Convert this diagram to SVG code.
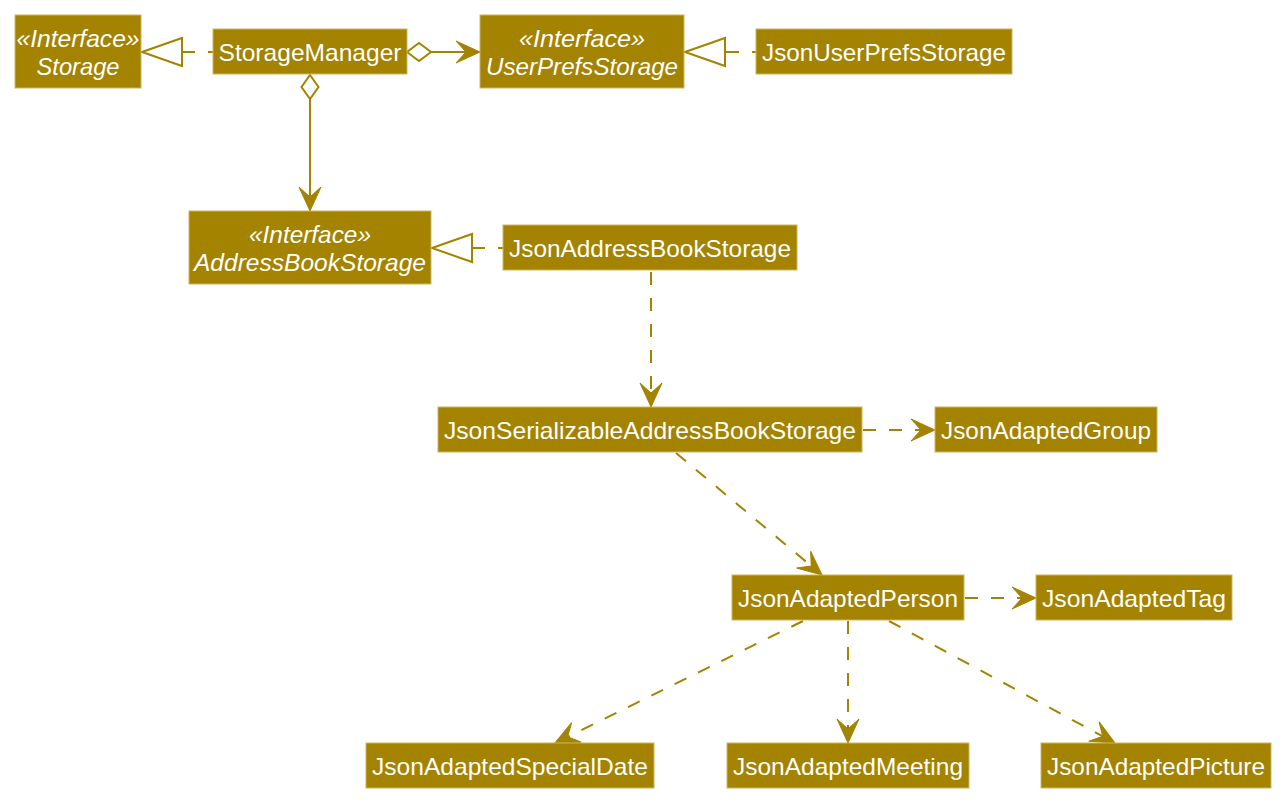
<svg xmlns="http://www.w3.org/2000/svg" width="1284" height="799" viewBox="0 0 1284 799">
<style>
.box{fill:#A38300;stroke:#CDB55F;stroke-width:1}
.t{font-family:"Liberation Sans",Arial,sans-serif;font-size:24px;fill:#FFFFFF;text-anchor:middle}
.i{font-style:italic}
.ln{fill:none;stroke:#A38300;stroke-width:2}
.dash{stroke-dasharray:13 13}
.tri{fill:#FFFFFF;stroke:#A38300;stroke-width:2}
.dia{fill:#FFFFFF;stroke:#A38300;stroke-width:2}
</style>
<defs>
<marker id="arrow" markerUnits="userSpaceOnUse" orient="auto" refX="0" refY="0" markerWidth="30" markerHeight="30" overflow="visible">
<path d="M0,0 L-24,-11 L-14,0 L-24,11 Z" fill="#A38300" stroke="#A38300" stroke-width="1"/>
</marker>
</defs>
<rect width="1284" height="799" fill="#FFFFFF"/>
<g id="connectors">
<path class="ln dash" d="M182,52 L213,52"/>
<polygon class="tri" points="142,52 182,38 182,66"/>
<path class="ln" d="M431,52 L480,52" marker-end="url(#arrow)"/>
<polygon class="dia" points="407,52 419,43 431,52 419,61"/>
<path class="ln dash" d="M726,52 L756,52"/>
<polygon class="tri" points="685,52 725,38 725,66"/>
<path class="ln" d="M310,99 L310,211" marker-end="url(#arrow)"/>
<polygon class="dia" points="310,75 318.5,87 310,99 301.5,87"/>
<path class="ln dash" d="M472,248 L503,248"/>
<polygon class="tri" points="432,248 472,234 472,262"/>
<path class="ln dash" d="M651,272 L651,407" marker-end="url(#arrow)"/>
<path class="ln dash" d="M863,430 L935,430" marker-end="url(#arrow)"/>
<path class="ln dash" d="M676,453 L822,575" marker-end="url(#arrow)"/>
<path class="ln dash" d="M965,598 L1036,598" marker-end="url(#arrow)"/>
<path class="ln dash" d="M803,621 L555,743" marker-end="url(#arrow)"/>
<path class="ln dash" d="M848,621 L848,743" marker-end="url(#arrow)"/>
<path class="ln dash" d="M889,621 L1115,743" marker-end="url(#arrow)"/>
</g>
<g id="Storage">
<rect class="box" x="15" y="15" width="126" height="73"/>
<text class="t i" x="78" y="47" textLength="123" lengthAdjust="spacingAndGlyphs">«Interface»</text>
<text class="t i" x="78" y="75" textLength="83" lengthAdjust="spacingAndGlyphs">Storage</text>
</g>
<g id="StorageManager">
<rect class="box" x="213" y="29" width="194" height="45"/>
<text class="t" x="310" y="61" textLength="183" lengthAdjust="spacingAndGlyphs">StorageManager</text>
</g>
<g id="UserPrefsStorage">
<rect class="box" x="480" y="15" width="204" height="73"/>
<text class="t i" x="582" y="47" textLength="126" lengthAdjust="spacingAndGlyphs">«Interface»</text>
<text class="t i" x="582" y="75" textLength="192" lengthAdjust="spacingAndGlyphs">UserPrefsStorage</text>
</g>
<g id="JsonUserPrefsStorage">
<rect class="box" x="756" y="29" width="256" height="45"/>
<text class="t" x="884" y="61" textLength="244" lengthAdjust="spacingAndGlyphs">JsonUserPrefsStorage</text>
</g>
<g id="AddressBookStorage">
<rect class="box" x="189" y="211" width="242" height="73"/>
<text class="t i" x="310" y="243" textLength="122" lengthAdjust="spacingAndGlyphs">«Interface»</text>
<text class="t i" x="310" y="271" textLength="232" lengthAdjust="spacingAndGlyphs">AddressBookStorage</text>
</g>
<g id="JsonAddressBookStorage">
<rect class="box" x="503" y="225" width="294" height="45"/>
<text class="t" x="650" y="257" textLength="282" lengthAdjust="spacingAndGlyphs">JsonAddressBookStorage</text>
</g>
<g id="JsonSerializableAddressBookStorage">
<rect class="box" x="438" y="407" width="424" height="45"/>
<text class="t" x="650" y="439" textLength="412" lengthAdjust="spacingAndGlyphs">JsonSerializableAddressBookStorage</text>
</g>
<g id="JsonAdaptedGroup">
<rect class="box" x="935" y="407" width="222" height="45"/>
<text class="t" x="1046" y="439" textLength="210" lengthAdjust="spacingAndGlyphs">JsonAdaptedGroup</text>
</g>
<g id="JsonAdaptedPerson">
<rect class="box" x="732" y="575" width="232" height="45"/>
<text class="t" x="848" y="607" textLength="220" lengthAdjust="spacingAndGlyphs">JsonAdaptedPerson</text>
</g>
<g id="JsonAdaptedTag">
<rect class="box" x="1036" y="575" width="196" height="45"/>
<text class="t" x="1134" y="607" textLength="184" lengthAdjust="spacingAndGlyphs">JsonAdaptedTag</text>
</g>
<g id="JsonAdaptedSpecialDate">
<rect class="box" x="366" y="743" width="288" height="45"/>
<text class="t" x="510" y="775" textLength="276" lengthAdjust="spacingAndGlyphs">JsonAdaptedSpecialDate</text>
</g>
<g id="JsonAdaptedMeeting">
<rect class="box" x="727" y="743" width="242" height="45"/>
<text class="t" x="848" y="775" textLength="230" lengthAdjust="spacingAndGlyphs">JsonAdaptedMeeting</text>
</g>
<g id="JsonAdaptedPicture">
<rect class="box" x="1041" y="743" width="230" height="45"/>
<text class="t" x="1156" y="775" textLength="218" lengthAdjust="spacingAndGlyphs">JsonAdaptedPicture</text>
</g>
</svg>
